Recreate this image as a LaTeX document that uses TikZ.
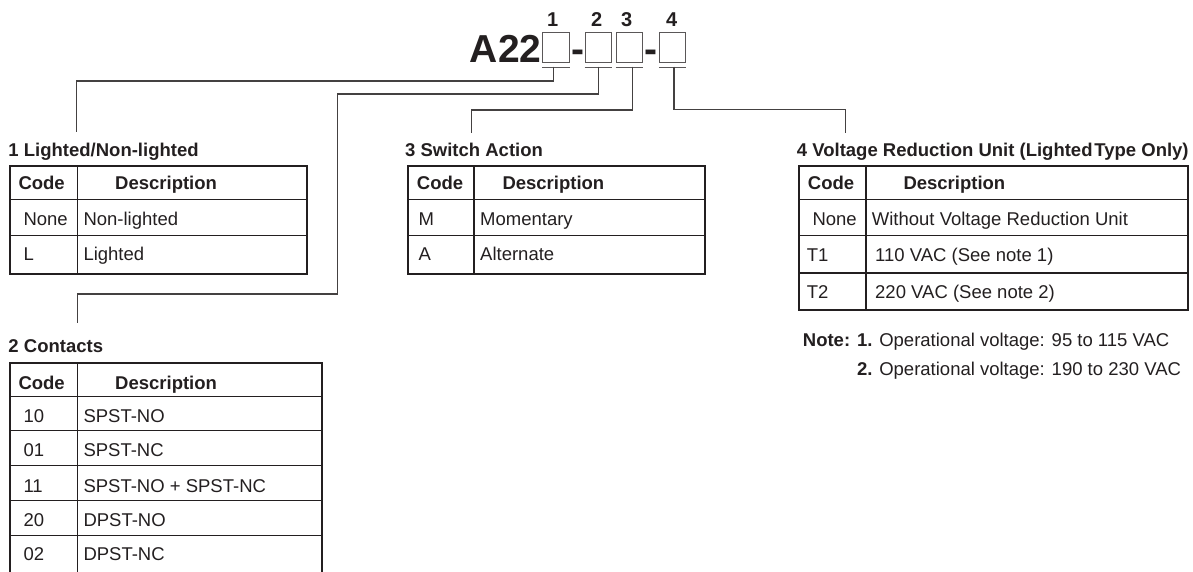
\documentclass[tikz,border=0pt]{standalone}
\usepackage{fontspec}
\setmainfont{Liberation Sans}
\definecolor{ink}{HTML}{231F20}
\begin{document}
\begin{tikzpicture}[x=1pt,y=-1pt,
  txt/.style={inner sep=0pt, anchor=base west, text=ink, font=\fontsize{18.5}{20}\selectfont},
  btxt/.style={txt, font=\fontsize{18.5}{20}\selectfont\bfseries},
  outerline/.style={line width=2pt, draw=ink, line join=miter},
  innerline/.style={line width=1.3pt, draw=ink},
  conn/.style={line width=1.3pt, draw=ink!85},
  uline/.style={line width=1.4pt, draw=ink!75},
  codebox/.style={draw=ink!75, line width=1pt, minimum width=26.3pt, minimum height=29.7pt, inner sep=0pt},
  digit/.style={inner sep=0pt, anchor=base, text=ink, font=\fontsize{20}{22}\selectfont\bfseries},
  big/.style={inner sep=0pt, anchor=base, text=ink, font=\fontsize{39}{40}\selectfont\bfseries}
]
\useasboundingbox (0,0) rectangle (1193,571);

% ---- model code ----
\node[big, anchor=base east] (a22) at (541.7,62) {A22};
\node[codebox] (box1) at (555.9,47.2) {};
\node[big] (h1) at (577.8,62) {-};
\node[codebox] (box2) at (598.3,47.2) {};
\node[codebox] (box3) at (629.2,47.2) {};
\node[big] (h2) at (650.5,62) {-};
\node[codebox] (box4) at (672.5,47.2) {};
\node[digit] (d1) at (552.7,26) {1};
\node[digit] (d2) at (596.7,26) {2};
\node[digit] (d3) at (626.7,26) {3};
\node[digit] (d4) at (671.7,26) {4};
\foreach \b in {box1,box2,box3,box4}
  \draw[uline] ([yshift=-4.7pt]\b.south west) -- ([yshift=-4.7pt]\b.south east);

% ---- connector points ----
\coordinate (u1) at (553.3,66.7);
\coordinate (u2) at (598.3,66.7);
\coordinate (u3) at (632.7,66.7);
\coordinate (u4) at (674,66.7);
\coordinate (k1) at (553.3,81);   \coordinate (m1) at (76.7,81);   \coordinate (e1) at (76.7,131.7);
\coordinate (k2) at (598.3,94);   \coordinate (m2) at (337.7,94);  \coordinate (n2) at (337.7,294);
\coordinate (p2) at (77.3,294);   \coordinate (e2) at (77.3,323.3);
\coordinate (k3) at (632.7,110);  \coordinate (m3) at (471.7,110); \coordinate (e3) at (471.7,132.7);
\coordinate (k4) at (674,109.3);  \coordinate (m4) at (845.7,109.3); \coordinate (e4) at (845.7,132.7);
\draw[conn] (u1) -- (k1) -- (m1) -- (e1);
\draw[conn] (u2) -- (k2) -- (m2) -- (n2) -- (p2) -- (e2);
\draw[conn] (u3) -- (k3) -- (m3) -- (e3);
\draw[conn] (u4) -- (k4) -- (m4) -- (e4);

% ---- table 1 ----
\node[btxt] (t1) at (8.3,156) {1 Lighted/Non-lighted};
\draw[innerline] (77.3,166) -- (77.3,274);
\draw[innerline] (10,199.3) -- (306.7,199.3);
\draw[innerline] (10,235.5) -- (306.7,235.5);
\draw[outerline] (10,166) rectangle (306.7,274);
\node[btxt] (t1c) at (18.3,189.3) {Code};
\node[btxt] (t1d) at (115,189.3) {Description};
\node[txt] (t1r1c) at (23.3,225) {None};
\node[txt] (t1r1d) at (83.3,225) {Non-lighted};
\node[txt] (t1r2c) at (23.3,260.7) {L};
\node[txt] (t1r2d) at (83.3,260.7) {Lighted};

% ---- table 2 ----
\node[btxt] (t2) at (8.3,352.7) {2 Contacts};
\draw[innerline] (77.3,362.7) -- (77.3,572);
\foreach \y in {396.5,430.5,465.5,500.5,535.5}
  \draw[innerline] (10,\y) -- (321.7,\y);
\draw[outerline] (10,573) -- (10,362.7) -- (321.7,362.7) -- (321.7,573);
\node[btxt] (t2c) at (18.3,389) {Code};
\node[btxt] (t2d) at (115,389) {Description};
\node[txt] (t2r1c) at (23.3,422.7) {10};
\node[txt] (t2r1d) at (83.3,422.7) {SPST-NO};
\node[txt] (t2r2c) at (23.3,456.7) {01};
\node[txt] (t2r2d) at (83.3,456.7) {SPST-NC};
\node[txt] (t2r3c) at (23.3,492.2) {11};
\node[txt] (t2r3d) at (83.3,492.2) {SPST-NO + SPST-NC};
\node[txt] (t2r4c) at (23.3,526.5) {20};
\node[txt] (t2r4d) at (83.3,526.5) {DPST-NO};
\node[txt] (t2r5c) at (23.3,560.7) {02};
\node[txt] (t2r5d) at (83.3,560.7) {DPST-NC};

% ---- table 3 ----
\node[btxt] (t3) at (405,156) {3 Switch Action};
\draw[innerline] (474,166) -- (474,274);
\draw[innerline] (408.3,199.3) -- (705,199.3);
\draw[innerline] (408.3,235.5) -- (705,235.5);
\draw[outerline] (408.3,166) rectangle (705,274);
\node[btxt] (t3c) at (416.7,189.3) {Code};
\node[btxt] (t3d) at (502.3,189.3) {Description};
\node[txt] (t3r1c) at (418.3,225) {M};
\node[txt] (t3r1d) at (480,225) {Momentary};
\node[txt] (t3r2c) at (418.3,260.7) {A};
\node[txt] (t3r2d) at (480,260.7) {Alternate};

% ---- table 4 ----
\node[btxt] (t4) at (796.7,156) {4 Voltage Reduction Unit (Lighted\hspace{0.1em}Type Only)};
\draw[innerline] (866,166) -- (866,310);
\draw[innerline] (799.3,199.3) -- (1188.3,199.3);
\draw[innerline] (799.3,235.5) -- (1188.3,235.5);
\draw[innerline] (799.3,273) -- (1188.3,273);
\draw[outerline] (799.3,166) rectangle (1188.3,310);
\node[btxt] (t4c) at (807.7,189.3) {Code};
\node[btxt] (t4d) at (903.3,189.3) {Description};
\node[txt] (t4r1c) at (812.3,225) {None};
\node[txt] (t4r1d) at (871.7,225) {Without Voltage Reduction Unit};
\node[txt] (t4r2c) at (806.7,261.7) {T1};
\node[txt] (t4r2d) at (875,261.7) {110 VAC (See note 1)};
\node[txt] (t4r3c) at (806.7,298.3) {T2};
\node[txt] (t4r3d) at (875,298.3) {220 VAC (See note 2)};

% ---- notes ----
\node[txt] (note1) at (802.7,346) {\textbf{Note: 1.} Operational voltage: 95 to 115 VAC};
\node[txt] (note2) at (802.7,375) {\phantom{\textbf{Note: }}\textbf{2.} Operational voltage: 190 to 230 VAC};
\end{tikzpicture}
\end{document}
